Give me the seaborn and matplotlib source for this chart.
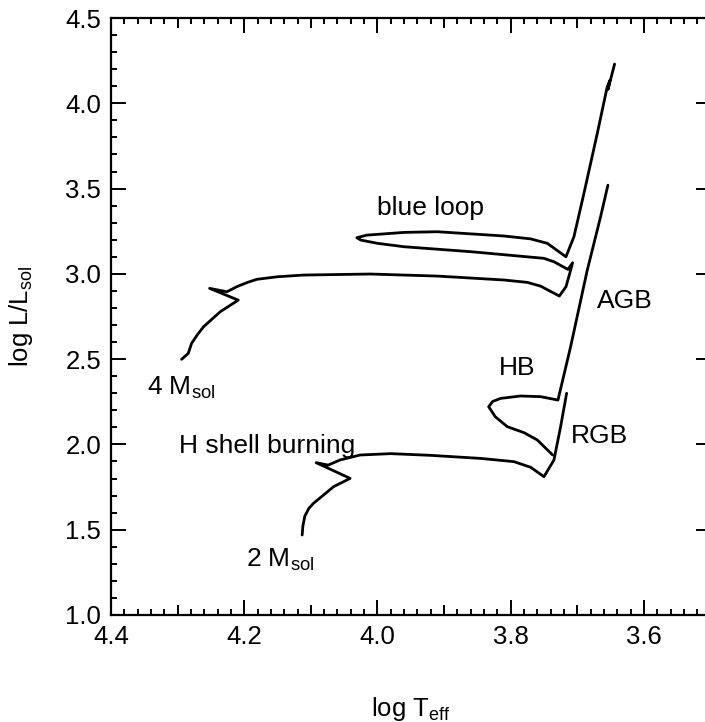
import matplotlib
matplotlib.use("Agg")
import matplotlib.pyplot as plt
from matplotlib.ticker import MultipleLocator, FixedLocator, FormatStrFormatter
import pandas as pd
import seaborn as sns

# --- evolutionary tracks (log Teff, log L/Lsol) ---
# 2 Msol: main sequence, hook, Hertzsprung gap, red giant branch
m2_h_logT = [4.113, 4.112, 4.109, 4.103, 4.096, 4.081, 4.066, 4.041, 4.092, 4.074,
             4.056, 4.026, 3.980, 3.920, 3.845, 3.795, 3.770, 3.750, 3.735, 3.725,
             3.716]
m2_h_logL = [1.469, 1.520, 1.580, 1.625, 1.655, 1.703, 1.752, 1.801, 1.893, 1.879,
             1.909, 1.938, 1.946, 1.936, 1.918, 1.899, 1.866, 1.811, 1.909, 2.104,
             2.300]

# 2 Msol: core helium burning loop and asymptotic giant branch
m2_he_logT = [3.737, 3.760, 3.780, 3.805, 3.823, 3.833, 3.827, 3.815, 3.785, 3.755,
              3.729, 3.710, 3.685, 3.665, 3.654]
m2_he_logL = [1.938, 2.026, 2.069, 2.104, 2.162, 2.221, 2.252, 2.270, 2.284, 2.280,
              2.260, 2.573, 3.022, 3.335, 3.520]

# 4 Msol: main sequence through blue loop and AGB
m4_logT = [4.294, 4.284, 4.279, 4.270, 4.261, 4.236, 4.209, 4.252, 4.226, 4.211,
           4.195, 4.181, 4.150, 4.111, 4.011, 3.910, 3.810, 3.775, 3.755, 3.727,
           3.717, 3.712, 3.707, 3.714, 3.735, 3.750, 3.860, 3.960, 4.000, 4.025,
           4.031, 4.016, 3.960, 3.910, 3.810, 3.770, 3.745, 3.717, 3.705, 3.690,
           3.670, 3.655, 3.651, 3.654, 3.644]
m4_logL = [2.499, 2.534, 2.593, 2.645, 2.690, 2.778, 2.846, 2.915, 2.895, 2.925,
           2.950, 2.968, 2.983, 2.993, 2.999, 2.987, 2.964, 2.950, 2.928, 2.870,
           2.924, 2.993, 3.065, 3.026, 3.071, 3.091, 3.130, 3.159, 3.179, 3.198,
           3.212, 3.227, 3.243, 3.247, 3.222, 3.205, 3.179, 3.100, 3.218, 3.472,
           3.823, 4.097, 4.135, 4.080, 4.230]

# annotations: text, log Teff, log L
label_text = ["blue loop", "4 M$_{\\mathrm{sol}}$", "H shell burning",
              "2 M$_{\\mathrm{sol}}$", "HB", "RGB", "AGB"]
label_logT = [3.920, 4.295, 4.165, 4.146, 3.791, 3.666, 3.629]
label_logL = [3.389, 2.334, 1.991, 1.322, 2.451, 2.049, 2.843]

tracks = pd.concat([
    pd.DataFrame({"logT": m2_h_logT, "logL": m2_h_logL, "segment": "2 Msol H"}),
    pd.DataFrame({"logT": m2_he_logT, "logL": m2_he_logL, "segment": "2 Msol He"}),
    pd.DataFrame({"logT": m4_logT, "logL": m4_logL, "segment": "4 Msol"}),
], ignore_index=True)

sns.set_style("ticks")
plt.rcParams["font.family"] = ["Liberation Sans", "DejaVu Sans"]
plt.rcParams["mathtext.fontset"] = "custom"
plt.rcParams["mathtext.rm"] = "Liberation Sans"
plt.rcParams["mathtext.it"] = "Liberation Sans"
plt.rcParams["mathtext.bf"] = "Liberation Sans"

FS = 18.5
FS_NOTE = 19
fig = plt.figure(figsize=(7.05, 7.22), dpi=100)
ax = fig.add_axes([111 / 705, (722 - 615) / 722, (710.5 - 111) / 705, (615 - 18) / 722])

sns.lineplot(data=tracks, x="logT", y="logL", units="segment", estimator=None,
             sort=False, color="black", lw=2.0, legend=False, ax=ax)

for txt, tx, ty in zip(label_text, label_logT, label_logL):
    ax.text(tx, ty, txt, fontsize=FS_NOTE, ha="center", va="center", color="black")

ax.set_xlim(4.4, 3.5)
ax.set_ylim(1.0, 4.5)
ax.xaxis.set_major_locator(MultipleLocator(0.2))
ax.xaxis.set_minor_locator(MultipleLocator(0.02))
ax.yaxis.set_major_locator(MultipleLocator(0.5))
ax.yaxis.set_minor_locator(MultipleLocator(0.1))
ax.xaxis.set_major_formatter(FormatStrFormatter("%.1f"))
ax.yaxis.set_major_formatter(FormatStrFormatter("%.1f"))

ax.tick_params(which="both", direction="in", top=True, right=True, color="black",
               width=1.4, labelsize=FS, labelcolor="black")
ax.tick_params(which="major", length=11, pad=7)
ax.tick_params(which="minor", length=4.5)

# intermediate ticks every 0.1 on the temperature axes
mid_ticks = [4.3, 4.1, 3.9, 3.7]
for side in ("bottom", "top"):
    sec = ax.secondary_xaxis(side)
    sec.xaxis.set_major_locator(FixedLocator(mid_ticks))
    sec.tick_params(direction="in", length=7, width=1.4, color="black",
                    labelbottom=False, labeltop=False)
    sec.spines[side].set_visible(False)

for s in ax.spines.values():
    s.set_visible(True)
    s.set_linewidth(1.6)
    s.set_color("black")

ax.set_xlabel("log T$_{\\mathrm{eff}}$", fontsize=FS, labelpad=33, color="black")
ax.set_ylabel("log L/L$_{\\mathrm{sol}}$", fontsize=FS, labelpad=22, color="black")

fig.savefig("out.png", dpi=100)
